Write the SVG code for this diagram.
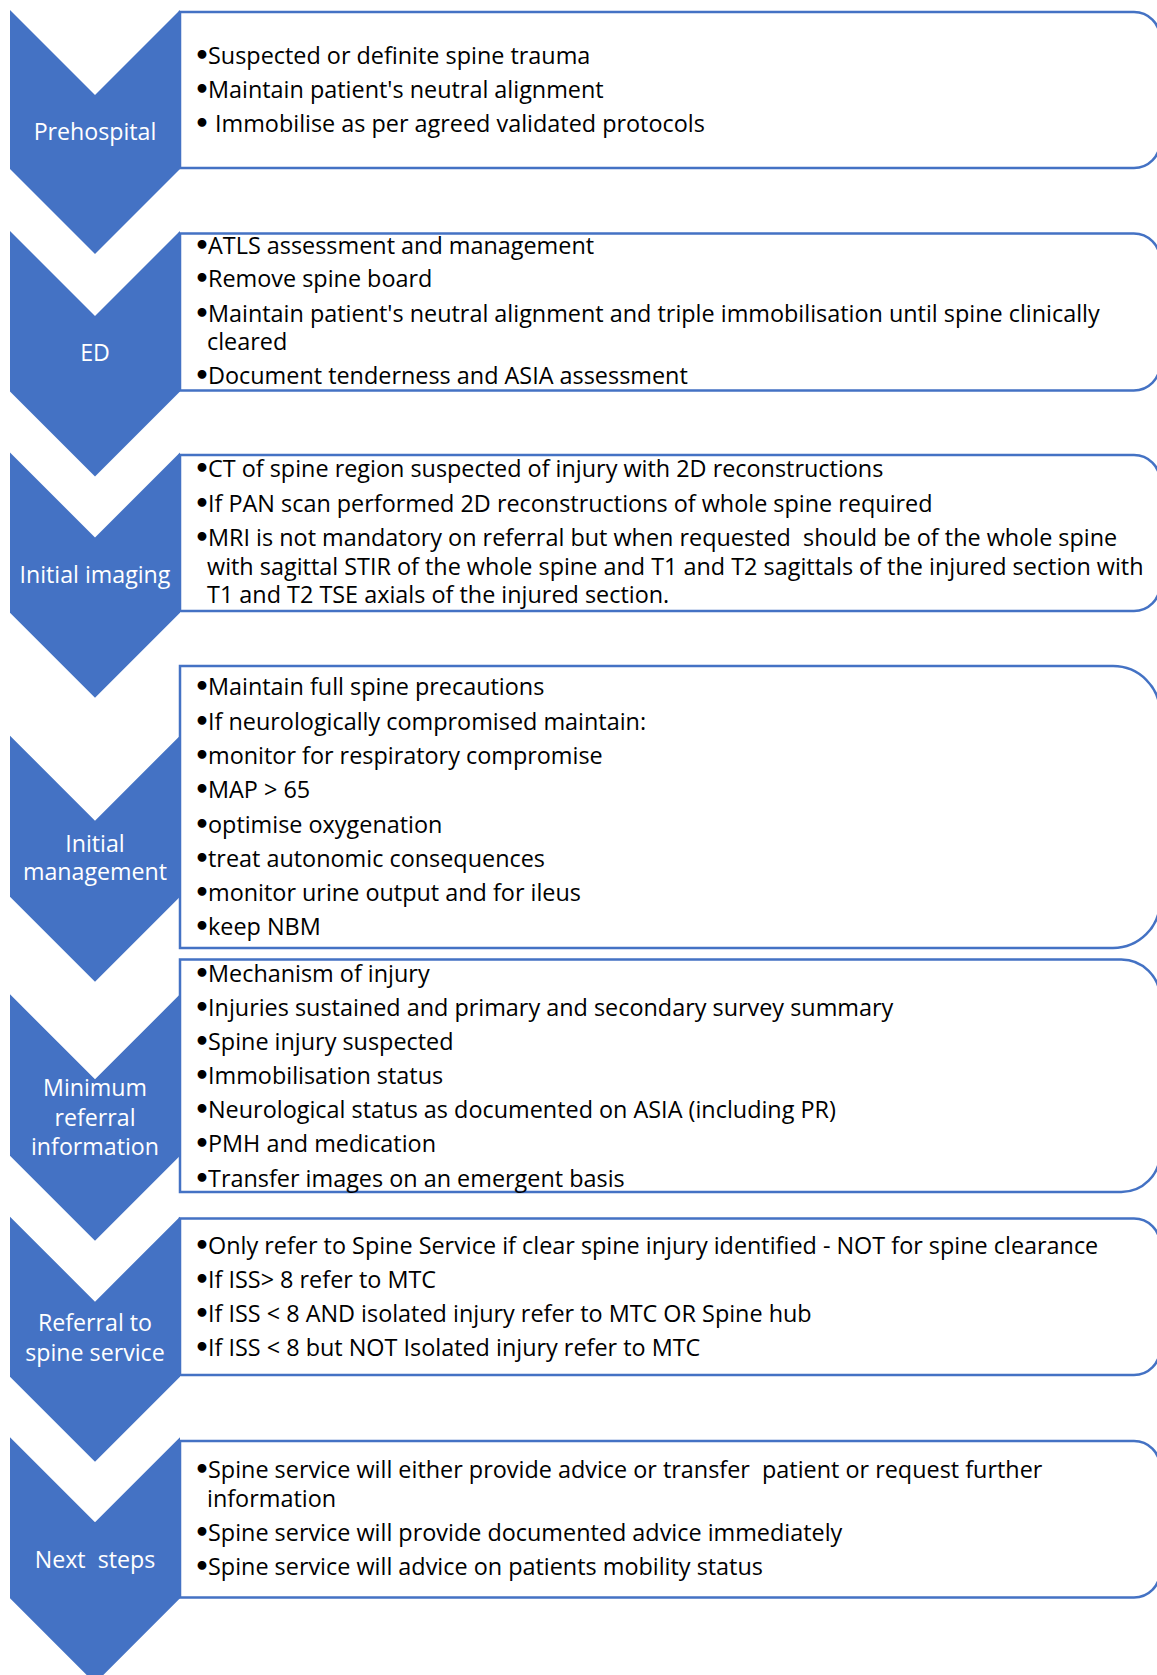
<svg xmlns="http://www.w3.org/2000/svg" width="1157" height="1675" viewBox="0 0 1157 1675">
<style>
.box{fill:#ffffff;stroke:#4472C4;stroke-width:2.5}
.chev{fill:#4472C4;stroke:none}
.t{font-family:"Open Sans","Liberation Sans",sans-serif;font-size:23.4px;fill:#000000;white-space:pre}
.b{font-family:"DejaVu Sans",sans-serif;font-size:25px;font-weight:bold}
.lbl{font-family:"Open Sans","Liberation Sans",sans-serif;font-size:23.2px;fill:#ffffff;text-anchor:middle;white-space:pre}
</style>
<rect x="0" y="0" width="1157" height="1675" fill="#ffffff"/>
<g id="connectors"></g>

<g id="step1">
<path class="box" d="M180,12 H1134 A26,26 0 0 1 1160,38 V142 A26,26 0 0 1 1134,168 H180 Z"/>
<path class="chev" d="M10,10 L95,95 L180,10 V169 L95,254 L10,169 Z"/>
<text class="lbl" x="95" y="139.5">Prehospital</text>
<text class="t"><tspan class="b" x="194" y="63.5">•</tspan><tspan x="208" y="63.5">Suspected or definite spine trauma</tspan><tspan class="b" x="194" y="97.5">•</tspan><tspan x="208" y="97.5">Maintain patient's neutral alignment</tspan><tspan class="b" x="194" y="131.5">•</tspan><tspan x="215" y="131.5">Immobilise as per agreed validated protocols</tspan></text>
</g>

<g id="step2">
<path class="box" d="M180,233.5 H1133.8 A26.2,26.2 0 0 1 1160,259.7 V364.3 A26.2,26.2 0 0 1 1133.8,390.5 H180 Z"/>
<path class="chev" d="M10,231 L95,316 L180,231 V391.5 L95,476.5 L10,391.5 Z"/>
<text class="lbl" x="95" y="360.7">ED</text>
<text class="t"><tspan class="b" x="194" y="253.5">•</tspan><tspan x="208" y="253.5">ATLS assessment and management</tspan><tspan class="b" x="194" y="286.8">•</tspan><tspan x="208" y="286.8">Remove spine board</tspan><tspan class="b" x="194" y="321.5">•</tspan><tspan x="208" y="321.5">Maintain patient's neutral alignment and triple immobilisation until spine clinically</tspan><tspan x="207" y="350">cleared</tspan><tspan class="b" x="194" y="384.3">•</tspan><tspan x="208" y="384.3">Document tenderness and ASIA assessment</tspan></text>
</g>

<g id="step3">
<path class="box" d="M180,455 H1134 A26,26 0 0 1 1160,481 V585 A26,26 0 0 1 1134,611 H180 Z"/>
<path class="chev" d="M10,452.5 L95,537.5 L180,452.5 V612.7 L95,697.7 L10,612.7 Z"/>
<text class="lbl" x="95" y="582.7">Initial imaging</text>
<text class="t" xml:space="preserve"><tspan class="b" x="194" y="477.3">•</tspan><tspan x="208" y="477.3">CT of spine region suspected of injury with 2D reconstructions</tspan><tspan class="b" x="194" y="511.7">•</tspan><tspan x="208" y="511.7">If PAN scan performed 2D reconstructions of whole spine required</tspan><tspan class="b" x="194" y="546">•</tspan><tspan x="208" y="546">MRI is not mandatory on referral but when requested  should be of the whole spine</tspan><tspan x="207" y="575">with sagittal STIR of the whole spine and T1 and T2 sagittals of the injured section with</tspan><tspan x="207" y="603.3">T1 and T2 TSE axials of the injured section.</tspan></text>
</g>

<g id="step4">
<path class="box" d="M180,666 H1113 A47,47 0 0 1 1160,713 V901 A47,47 0 0 1 1113,948 H180 Z"/>
<path class="chev" d="M10,735.7 L95,820.7 L180,735.7 V896.7 L95,981.7 L10,896.7 Z"/>
<text class="lbl"><tspan x="95" y="851.7">Initial</tspan><tspan x="95" y="880">management</tspan></text>
<text class="t"><tspan class="b" x="194" y="695">•</tspan><tspan x="208" y="695">Maintain full spine precautions</tspan><tspan class="b" x="194" y="729.5">•</tspan><tspan x="208" y="729.5">If neurologically compromised maintain:</tspan><tspan class="b" x="194" y="764">•</tspan><tspan x="208" y="764">monitor for respiratory compromise</tspan><tspan class="b" x="194" y="798.3">•</tspan><tspan x="208" y="798.3">MAP &gt; 65</tspan><tspan class="b" x="194" y="832.5">•</tspan><tspan x="208" y="832.5">optimise oxygenation</tspan><tspan class="b" x="194" y="866.7">•</tspan><tspan x="208" y="866.7">treat autonomic consequences</tspan><tspan class="b" x="194" y="901">•</tspan><tspan x="208" y="901">monitor urine output and for ileus</tspan><tspan class="b" x="194" y="935">•</tspan><tspan x="208" y="935">keep NBM</tspan></text>
</g>

<g id="step5">
<path class="box" d="M180,959.5 H1121.25 A38.75,38.75 0 0 1 1160,998.25 V1153.25 A38.75,38.75 0 0 1 1121.25,1192 H180 Z"/>
<path class="chev" d="M10,994.3 L95,1079.3 L180,994.3 V1155.7 L95,1240.7 L10,1155.7 Z"/>
<text class="lbl"><tspan x="95" y="1096">Minimum</tspan><tspan x="95" y="1125.7">referral</tspan><tspan x="95" y="1154.7">information</tspan></text>
<text class="t"><tspan class="b" x="194" y="981.7">•</tspan><tspan x="208" y="981.7">Mechanism of injury</tspan><tspan class="b" x="194" y="1015.5">•</tspan><tspan x="208" y="1015.5">Injuries sustained and primary and secondary survey summary</tspan><tspan class="b" x="194" y="1049.5">•</tspan><tspan x="208" y="1049.5">Spine injury suspected</tspan><tspan class="b" x="194" y="1084">•</tspan><tspan x="208" y="1084">Immobilisation status</tspan><tspan class="b" x="194" y="1118">•</tspan><tspan x="208" y="1118">Neurological status as documented on ASIA (including PR)</tspan><tspan class="b" x="194" y="1152.3">•</tspan><tspan x="208" y="1152.3">PMH and medication</tspan><tspan class="b" x="194" y="1186.7">•</tspan><tspan x="208" y="1186.7">Transfer images on an emergent basis</tspan></text>
</g>

<g id="step6">
<path class="box" d="M180,1218.5 H1134 A26,26 0 0 1 1160,1244.5 V1349 A26,26 0 0 1 1134,1375 H180 Z"/>
<path class="chev" d="M10,1216.7 L95,1301.7 L180,1216.7 V1376.7 L95,1461.7 L10,1376.7 Z"/>
<text class="lbl"><tspan x="95" y="1331">Referral to</tspan><tspan x="95" y="1361">spine service</tspan></text>
<text class="t"><tspan class="b" x="194" y="1254">•</tspan><tspan x="208" y="1254">Only refer to Spine Service if clear spine injury identified - NOT for spine clearance</tspan><tspan class="b" x="194" y="1288.3">•</tspan><tspan x="208" y="1288.3">If ISS&gt; 8 refer to MTC</tspan><tspan class="b" x="194" y="1321.7">•</tspan><tspan x="208" y="1321.7">If ISS &lt; 8 AND isolated injury refer to MTC OR Spine hub</tspan><tspan class="b" x="194" y="1356">•</tspan><tspan x="208" y="1356">If ISS &lt; 8 but NOT Isolated injury refer to MTC</tspan></text>
</g>

<g id="step7">
<path class="box" d="M180,1441 H1134 A26,26 0 0 1 1160,1467 V1571.5 A26,26 0 0 1 1134,1597.5 H180 Z"/>
<path class="chev" d="M10,1437.3 L95,1522.3 L180,1437.3 V1598.3 L95,1683.3 L10,1598.3 Z"/>
<text class="lbl" x="95" y="1568.3" xml:space="preserve">Next  steps</text>
<text class="t" xml:space="preserve"><tspan class="b" x="194" y="1478.3">•</tspan><tspan x="208" y="1478.3">Spine service will either provide advice or transfer  patient or request further</tspan><tspan x="207" y="1507.3">information</tspan><tspan class="b" x="194" y="1540.7">•</tspan><tspan x="208" y="1540.7">Spine service will provide documented advice immediately</tspan><tspan class="b" x="194" y="1575">•</tspan><tspan x="208" y="1575">Spine service will advice on patients mobility status</tspan></text>
</g>
</svg>
